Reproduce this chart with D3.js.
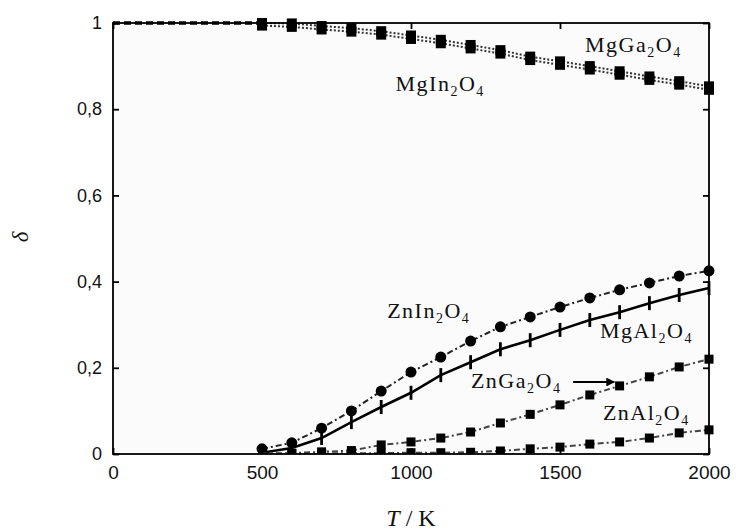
<!DOCTYPE html>
<html>
<head>
<meta charset="utf-8">
<script src="https://cdn.jsdelivr.net/npm/d3@7/dist/d3.min.js"></script>
<style>
  html, body { margin: 0; padding: 0; background: #ffffff; }
  svg { display: block; }
</style>
</head>
<body>
<svg id="chart" width="736" height="530"></svg>
<script>
// ---- data ----
const temperatures = [500, 600, 700, 800, 900, 1000, 1100, 1200, 1300, 1400, 1500, 1600, 1700, 1800, 1900, 2000];
const mgGa2O4 = [1.000, 0.999, 0.993, 0.988, 0.981, 0.971, 0.961, 0.949, 0.937, 0.922, 0.911, 0.900, 0.888, 0.876, 0.865, 0.853];
const mgIn2O4 = [0.994, 0.991, 0.985, 0.980, 0.973, 0.963, 0.953, 0.941, 0.929, 0.914, 0.903, 0.892, 0.880, 0.868, 0.857, 0.845];
const znIn2O4 = [0.012, 0.026, 0.060, 0.100, 0.146, 0.190, 0.225, 0.262, 0.295, 0.318, 0.341, 0.362, 0.381, 0.397, 0.413, 0.425];
const mgAl2O4 = [0.003, 0.014, 0.037, 0.074, 0.109, 0.142, 0.183, 0.213, 0.243, 0.264, 0.288, 0.311, 0.329, 0.350, 0.369, 0.385];
const znGa2O4 = [0.001, 0.002, 0.005, 0.008, 0.021, 0.028, 0.037, 0.051, 0.072, 0.092, 0.114, 0.137, 0.158, 0.179, 0.202, 0.220];
const znAl2O4 = [0.000, 0.001, 0.001, 0.002, 0.002, 0.003, 0.003, 0.004, 0.007, 0.012, 0.016, 0.023, 0.028, 0.037, 0.049, 0.056];
// low-temperature part of the top pair (fully ordered, delta = 1)
const lowTemperatures = [0, 100, 200, 300, 400, 500];
const lowDelta = [1, 1, 1, 1, 1, 1];

const xTicks = [0, 500, 1000, 1500, 2000];
const yTicks = [0, 0.2, 0.4, 0.6, 0.8, 1];
const xTitleItalic = "T";
const xTitleRest = " / K";
const yTitle = "δ";

// label anchors in data units: [T, delta]
const labels = [
  { base: "MgGa", sub1: "2", mid: "O", sub2: "4", at: [1584, 0.933] },
  { base: "MgIn", sub1: "2", mid: "O", sub2: "4", at: [948, 0.842] },
  { base: "ZnIn", sub1: "2", mid: "O", sub2: "4", at: [920, 0.316] },
  { base: "MgAl", sub1: "2", mid: "O", sub2: "4", at: [1634, 0.269] },
  { base: "ZnGa", sub1: "2", mid: "O", sub2: "4", at: [1201, 0.153] },
  { base: "ZnAl", sub1: "2", mid: "O", sub2: "4", at: [1644, 0.079] }
];
const arrowFrom = [1544, 0.167];
const arrowTo = [1682, 0.167];

// ---- layout ----
const svg = d3.select("#chart");
const mLeft = 113, mRight = 709, mTop = 23, mBottom = 454;
const x = d3.scaleLinear().domain([0, 2000]).range([mLeft, mRight]);
const y = d3.scaleLinear().domain([0, 1]).range([mBottom, mTop]);

svg.append("rect").attr("x", 0).attr("y", 0).attr("width", 736).attr("height", 530).attr("fill", "#ffffff");
svg.append("rect").attr("x", mLeft).attr("y", mTop).attr("width", mRight - mLeft).attr("height", mBottom - mTop).attr("fill", "#fbfbfb");

svg.append("clipPath").attr("id", "clip")
  .append("rect").attr("x", 0).attr("y", 0).attr("width", 736).attr("height", mBottom);

const plot = svg.append("g").attr("clip-path", "url(#clip)");

function series(vals) { return temperatures.map((t, i) => [t, vals[i]]); }
const line = d3.line().x(d => x(d[0])).y(d => y(d[1]));

function drawLine(vals, stroke, width, dash) {
  plot.append("path").datum(series(vals))
    .attr("d", line).attr("fill", "none")
    .attr("stroke", stroke).attr("stroke-width", width)
    .attr("stroke-dasharray", dash || null);
}
function drawSquares(vals, size, from) {
  plot.append("g").selectAll("rect").data(series(vals).filter(d => d[0] >= from)).join("rect")
    .attr("x", d => x(d[0]) - size / 2).attr("y", d => y(d[1]) - size / 2)
    .attr("width", size).attr("height", size).attr("fill", "#000");
}

// top pair (dotted)
plot.append("path").datum(lowTemperatures.map((t, i) => [t, lowDelta[i]]))
  .attr("d", line).attr("fill", "none").attr("stroke", "#000").attr("stroke-width", 3.5)
  .attr("stroke-dasharray", "7,4");
drawLine(mgGa2O4, "#333", 2, "2,2");
drawLine(mgIn2O4, "#333", 2, "2,2");
drawSquares(mgGa2O4, 10, 500);
drawSquares(mgIn2O4, 10, 500);

// ZnIn2O4 dash-dot with circles
drawLine(znIn2O4, "#222", 2, "6,3,2,3");
plot.append("g").selectAll("circle").data(series(znIn2O4)).join("circle")
  .attr("cx", d => x(d[0])).attr("cy", d => y(d[1])).attr("r", 5.5).attr("fill", "#000");

// MgAl2O4 solid with vertical bar markers
drawLine(mgAl2O4, "#000", 2.6, null);
plot.append("g").selectAll("line").data(series(mgAl2O4).filter(d => d[0] >= 600)).join("line")
  .attr("x1", d => x(d[0])).attr("x2", d => x(d[0]))
  .attr("y1", d => y(d[1]) - 7).attr("y2", d => y(d[1]) + 7)
  .attr("stroke", "#000").attr("stroke-width", 2.8);

// ZnGa2O4 and ZnAl2O4 dash-dot with squares
drawLine(znGa2O4, "#444", 2, "6,3,2,3");
drawSquares(znGa2O4, 9, 600);
drawLine(znAl2O4, "#444", 2, "6,3,2,3");
drawSquares(znAl2O4, 9, 600);

// ---- axes ----
const fmt = d => (d === 0 ? "0" : d === 1 ? "1" : d3.format(".1f")(d).replace(".", ","));

const gL = svg.append("g").attr("transform", `translate(${mLeft},0)`)
  .call(d3.axisLeft(y).tickValues(yTicks).tickSizeInner(-6).tickSizeOuter(0).tickPadding(11).tickFormat(fmt));
const gR = svg.append("g").attr("transform", `translate(${mRight},0)`)
  .call(d3.axisRight(y).tickValues(yTicks).tickSizeInner(-6).tickSizeOuter(0).tickFormat(""));
const gB = svg.append("g").attr("transform", `translate(0,${mBottom})`)
  .call(d3.axisBottom(x).tickValues(xTicks).tickSizeInner(-6).tickSizeOuter(0).tickPadding(12).tickFormat(d3.format("d")));
const gT = svg.append("g").attr("transform", `translate(0,${mTop})`)
  .call(d3.axisTop(x).tickValues(xTicks).tickSizeInner(-6).tickSizeOuter(0).tickFormat(""));

[gL, gR, gB, gT].forEach(g => {
  g.select(".domain").remove();
  g.selectAll(".tick line").attr("stroke", "#000").attr("stroke-width", 1.8);
});
gL.selectAll("text").attr("font-family", "Liberation Sans, Arial, sans-serif").attr("font-size", 18).attr("fill", "#111");
gB.selectAll("text").attr("font-family", "Liberation Sans, Arial, sans-serif").attr("font-size", 19).attr("fill", "#111");

svg.append("rect").attr("x", mLeft).attr("y", mTop).attr("width", mRight - mLeft).attr("height", mBottom - mTop)
  .attr("fill", "none").attr("stroke", "#000").attr("stroke-width", 1.8);

// ---- axis titles ----
const xt = svg.append("text").attr("x", (mLeft + mRight) / 2).attr("y", 526).attr("text-anchor", "middle")
  .attr("font-family", "Liberation Serif, Times New Roman, serif").attr("font-size", 24).attr("fill", "#111");
xt.append("tspan").attr("font-style", "italic").text(xTitleItalic);
xt.append("tspan").text(xTitleRest);

svg.append("text").attr("transform", "translate(28,237) rotate(-90)").attr("text-anchor", "middle")
  .attr("font-family", "Liberation Serif, Times New Roman, serif").attr("font-style", "italic")
  .attr("font-size", 23).attr("fill", "#111").text(yTitle);

// ---- series labels ----
labels.forEach(l => {
  const t = svg.append("text").attr("x", x(l.at[0])).attr("y", y(l.at[1]))
    .attr("font-family", "Liberation Serif, Times New Roman, serif").attr("font-size", 22)
    .attr("letter-spacing", 1.5).attr("fill", "#111");
  t.append("tspan").text(l.base);
  t.append("tspan").attr("font-size", 14).attr("dy", 5).text(l.sub1);
  t.append("tspan").attr("dy", -5).text(l.mid);
  t.append("tspan").attr("font-size", 14).attr("dy", 5).text(l.sub2);
});

// arrow
svg.append("defs").append("marker").attr("id", "arrowhead")
  .attr("viewBox", "0 0 10 10").attr("refX", 9).attr("refY", 5)
  .attr("markerWidth", 5).attr("markerHeight", 4).attr("orient", "auto")
  .append("path").attr("d", "M0,0 L10,5 L0,10 Z").attr("fill", "#000");
svg.append("line")
  .attr("x1", x(arrowFrom[0])).attr("y1", y(arrowFrom[1]))
  .attr("x2", x(arrowTo[0])).attr("y2", y(arrowTo[1]))
  .attr("stroke", "#000").attr("stroke-width", 2.2).attr("marker-end", "url(#arrowhead)");
</script>
</body>
</html>
